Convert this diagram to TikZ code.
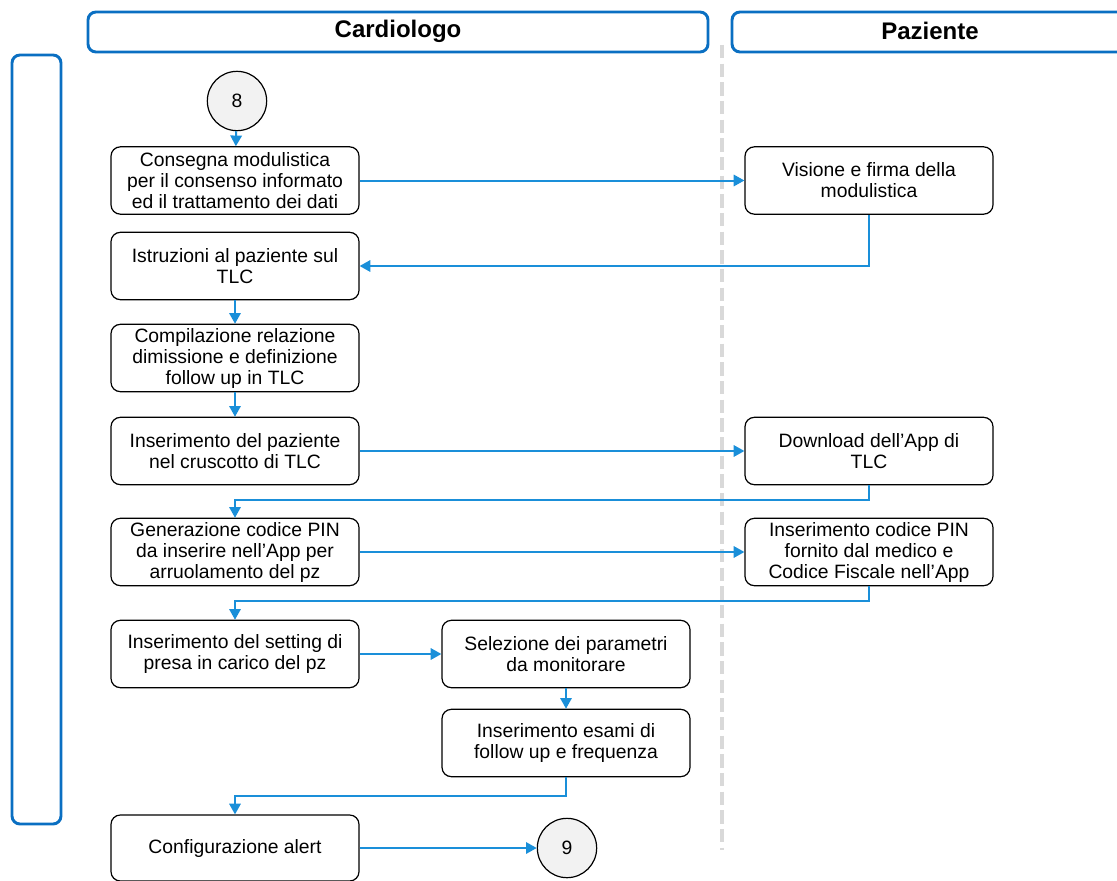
\documentclass[tikz,border=0pt]{standalone}
\usepackage{fontspec}
\setmainfont{Liberation Sans}
\usetikzlibrary{arrows.meta}

\definecolor{flow}{HTML}{1A8FD9}
\definecolor{lane}{HTML}{0A6FC2}
\definecolor{sep}{HTML}{D9D9D9}
\definecolor{connfill}{HTML}{F2F2F2}

\newcommand{\bodytext}{\fontsize{14.5}{15.75}\selectfont}
\newcommand{\headtext}{\fontsize{18}{20}\selectfont\bfseries}

\tikzset{
  proc/.style={draw=black, line width=0.9pt, rounded corners=7pt, fill=white,
    minimum width=186pt, minimum height=50.5pt, align=center, inner sep=0pt,
    font=\bodytext},
  pageref/.style={draw=black, line width=0.9pt, circle, fill=connfill,
    minimum size=44.5pt, inner sep=0pt, font=\bodytext},
  conn/.style={draw=flow, line width=1.5pt, -{Triangle[length=8pt,width=8.5pt]}},
  lanebox/.style={draw=lane, line width=2.2pt, rounded corners=6pt},
  divider/.style={draw=sep, line width=2.4pt, dash pattern=on 10pt off 4pt}
}

\begin{document}
\begin{tikzpicture}[x=0.75pt, y=-0.75pt]
  \useasboundingbox (0,0) rectangle (1117,881);
  \clip (0,0) rectangle (1117,881);

  % swimlane frames
  \draw[lanebox] (12,55) rectangle (61,824);
  \draw[lanebox] (88,12) rectangle (708,52);
  \node[font=\headtext] (hcard) at (398,31) {Cardiologo};
  \draw[lanebox] (732,12) rectangle (1160,52);
  \node[font=\headtext] (hpaz) at (930,31) {Paziente};

  % lane separator
  \draw[divider] (722,45) -- (722,850);

  % activities
  \node[pageref] (c8) at (237,101) {8};
  \node[proc] (n1) at (235,180.5) {Consegna modulistica\\per il consenso informato\\ed il trattamento dei dati};
  \node[proc] (v1) at (869,180.5) {Visione e firma della\\modulistica};
  \node[proc] (n2) at (235,266) {Istruzioni al paziente sul\\TLC};
  \node[proc] (n3) at (235,358) {Compilazione relazione\\dimissione e definizione\\follow up in TLC};
  \node[proc] (n4) at (235,451) {Inserimento del paziente\\nel cruscotto di TLC};
  \node[proc] (v2) at (869,451) {Download dell’App di\\TLC};
  \node[proc] (n5) at (235,552) {Generazione codice PIN\\da inserire nell’App per\\arruolamento del pz};
  \node[proc] (v3) at (869,552) {Inserimento codice PIN\\fornito dal medico e\\Codice Fiscale nell’App};
  \node[proc] (n6) at (235,654) {Inserimento del setting di\\presa in carico del pz};
  \node[proc] (s1) at (566,654) {Selezione dei parametri\\da monitorare};
  \node[proc] (s2) at (566,743) {Inserimento esami di\\follow up e frequenza};
  \node[proc, minimum height=49.5pt] (n7) at (235,848) {Configurazione alert};
  \node[pageref] (c9) at (567,848) {9};

  % flow
  \draw[conn] (c8) -- (n1);
  \draw[conn] (n1) -- (v1);
  \draw[conn] (v1.south) |- (n2.east);
  \draw[conn] (n2) -- (n3);
  \draw[conn] (n3) -- (n4);
  \draw[conn] (n4) -- (v2);
  \draw[conn] (v2.south) -- ++(0,15) -| (n5.north);
  \draw[conn] (n5) -- (v3);
  \draw[conn] (v3.south) -- ++(0,15) -| (n6.north);
  \draw[conn] (n6) -- (s1);
  \draw[conn] (s1) -- (s2);
  \draw[conn] (s2.south) -- ++(0,19) -| (n7.north);
  \draw[conn] (n7) -- (c9);
\end{tikzpicture}
\end{document}
